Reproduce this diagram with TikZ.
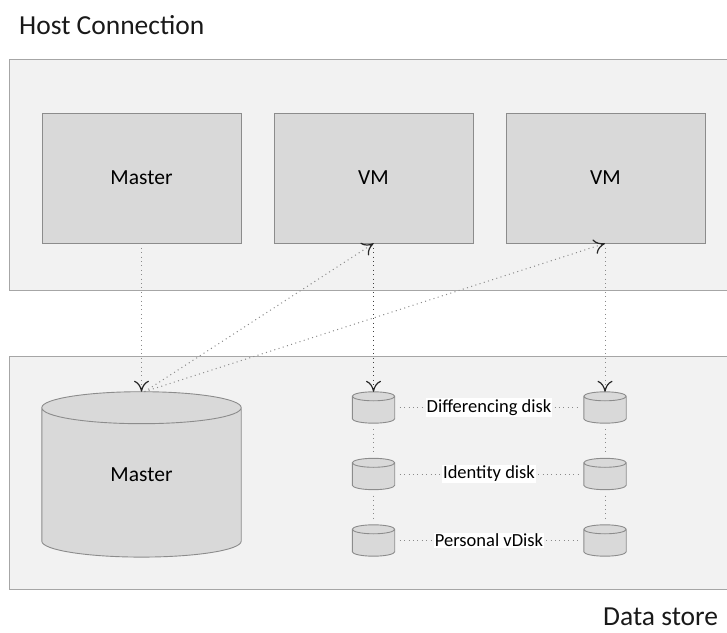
\documentclass[tikz,border=0pt]{standalone}
\usepackage{fontspec}
\setmainfont{Carlito}
\usetikzlibrary{arrows.meta,calc}
\pgfdeclarelayer{back}
\pgfdeclarelayer{mid}
\pgfsetlayers{back,mid,main}
\definecolor{panelfill}{HTML}{F2F2F2}
\definecolor{panelline}{HTML}{A6A6A6}
\definecolor{boxfill}{HTML}{D9D9D9}
\definecolor{boxline}{HTML}{8C8C8C}
\definecolor{dotgray}{HTML}{8A8A8A}
\definecolor{dotdark}{HTML}{404040}
\newcommand{\drawcyl}[2]{%
  \path let \p1=(#1.north west), \p2=(#1.south east), \n1={(\x2-\x1)/2} in
    [cylsty] (\x1,\y1-#2) -- (\x1,\y2+#2)
      arc[start angle=180,end angle=360,x radius=\n1,y radius=#2]
      -- (\x2,\y1-#2)
      arc[start angle=0,end angle=180,x radius=\n1,y radius=#2] -- cycle
    (\x1,\y1-#2) arc[start angle=180,end angle=360,x radius=\n1,y radius=#2];}
\begin{document}
\begin{tikzpicture}[x=1pt,y=1pt,
  panel/.style={draw=panelline,fill=panelfill,line width=1pt},
  hostbox/.style={draw=boxline,fill=boxfill,line width=0.9pt,minimum width=199pt,minimum height=130pt,
    font=\fontsize{21.5}{24}\selectfont},
  cylsty/.style={draw=boxline,fill=boxfill,line width=0.9pt},
  bigcyl/.style={minimum width=199pt,minimum height=165pt,inner sep=0pt,font=\fontsize{21.5}{24}\selectfont},
  smallcyl/.style={minimum width=42pt,minimum height=31pt,inner sep=0pt},
  disklabel/.style={fill=white,inner sep=1pt,font=\fontsize{18.5}{21}\selectfont},
  title/.style={anchor=base west,inner sep=0pt,font=\fontsize{27.5}{30}\selectfont,text=black!90},
  conn/.style={draw=dotgray,line width=1pt,dash pattern=on 1pt off 3.4pt},
  darkconn/.style={draw=dotdark,line width=1pt,dash pattern=on 1pt off 3.4pt},
  tip/.style={-{Computer Modern Rightarrow[length=11pt,width=15pt,line width=1.2pt,color=black!85]}}
]
\useasboundingbox (0,0) rectangle (727,632);

% panels
\begin{pgfonlayer}{back}
  \path[panel] (9.5,572) rectangle (740,341);
  \path[panel] (9.5,275) rectangle (740,43);
\end{pgfonlayer}

\node[title] (hosttitle) at (19,597) {Host Connection};
\node[title] (datatitle) at (603,7) {Data store};

% top boxes
\node[hostbox] (mbox) at (141.5,454) {Master};
\node[hostbox] (vm1) at (373.5,454) {VM};
\node[hostbox] (vm2) at (605.5,454) {VM};

% cylinders
\node[bigcyl] (mcyl) at (141.5,157.6) {Master};
\node[smallcyl] (a1) at (373.5,224.5) {};
\node[smallcyl] (a2) at (373.5,158) {};
\node[smallcyl] (a3) at (373.5,91.5) {};
\node[smallcyl] (b1) at (605,224.5) {};
\node[smallcyl] (b2) at (605,158) {};
\node[smallcyl] (b3) at (605,91.5) {};
\begin{pgfonlayer}{mid}
  \drawcyl{mcyl}{16pt}
  \drawcyl{a1}{4.5pt}
  \drawcyl{a2}{4.5pt}
  \drawcyl{a3}{4.5pt}
  \drawcyl{b1}{4.5pt}
  \drawcyl{b2}{4.5pt}
  \drawcyl{b3}{4.5pt}
\end{pgfonlayer}

% labels
\node[disklabel] (l1) at (489,224.5) {Differencing disk};
\node[disklabel] (l2) at (489,158) {Identity disk};
\node[disklabel] (l3) at (489,91.5) {Personal vDisk};

% horizontal and vertical dotted links
\foreach \i in {1,2,3}{
  \draw[conn,shorten <=5pt,shorten >=2pt] (a\i.east) -- (l\i.west);
  \draw[conn,shorten <=2pt,shorten >=5pt] (l\i.east) -- (b\i.west);
}
\draw[conn,shorten <=6pt,shorten >=3pt] (a1.south) -- (a2.north);
\draw[conn,shorten <=6pt,shorten >=3pt] (a2.south) -- (a3.north);
\draw[conn,shorten <=6pt,shorten >=3pt] (b1.south) -- (b2.north);
\draw[conn,shorten <=6pt,shorten >=3pt] (b2.south) -- (b3.north);

% arrows
\draw[conn,tip] (mbox.south) -- (mcyl.north);
\draw[conn,tip] ([xshift=3pt]mcyl.north) -- (vm1.south);
\draw[conn,tip] ([xshift=3pt]mcyl.north) -- ([xshift=-0.5pt]vm2.south);
\draw[darkconn,tip] (vm1.south) -- (a1.north);
\draw[conn,tip] ([xshift=-0.5pt]vm2.south) -- (b1.north);
\end{tikzpicture}
\end{document}
